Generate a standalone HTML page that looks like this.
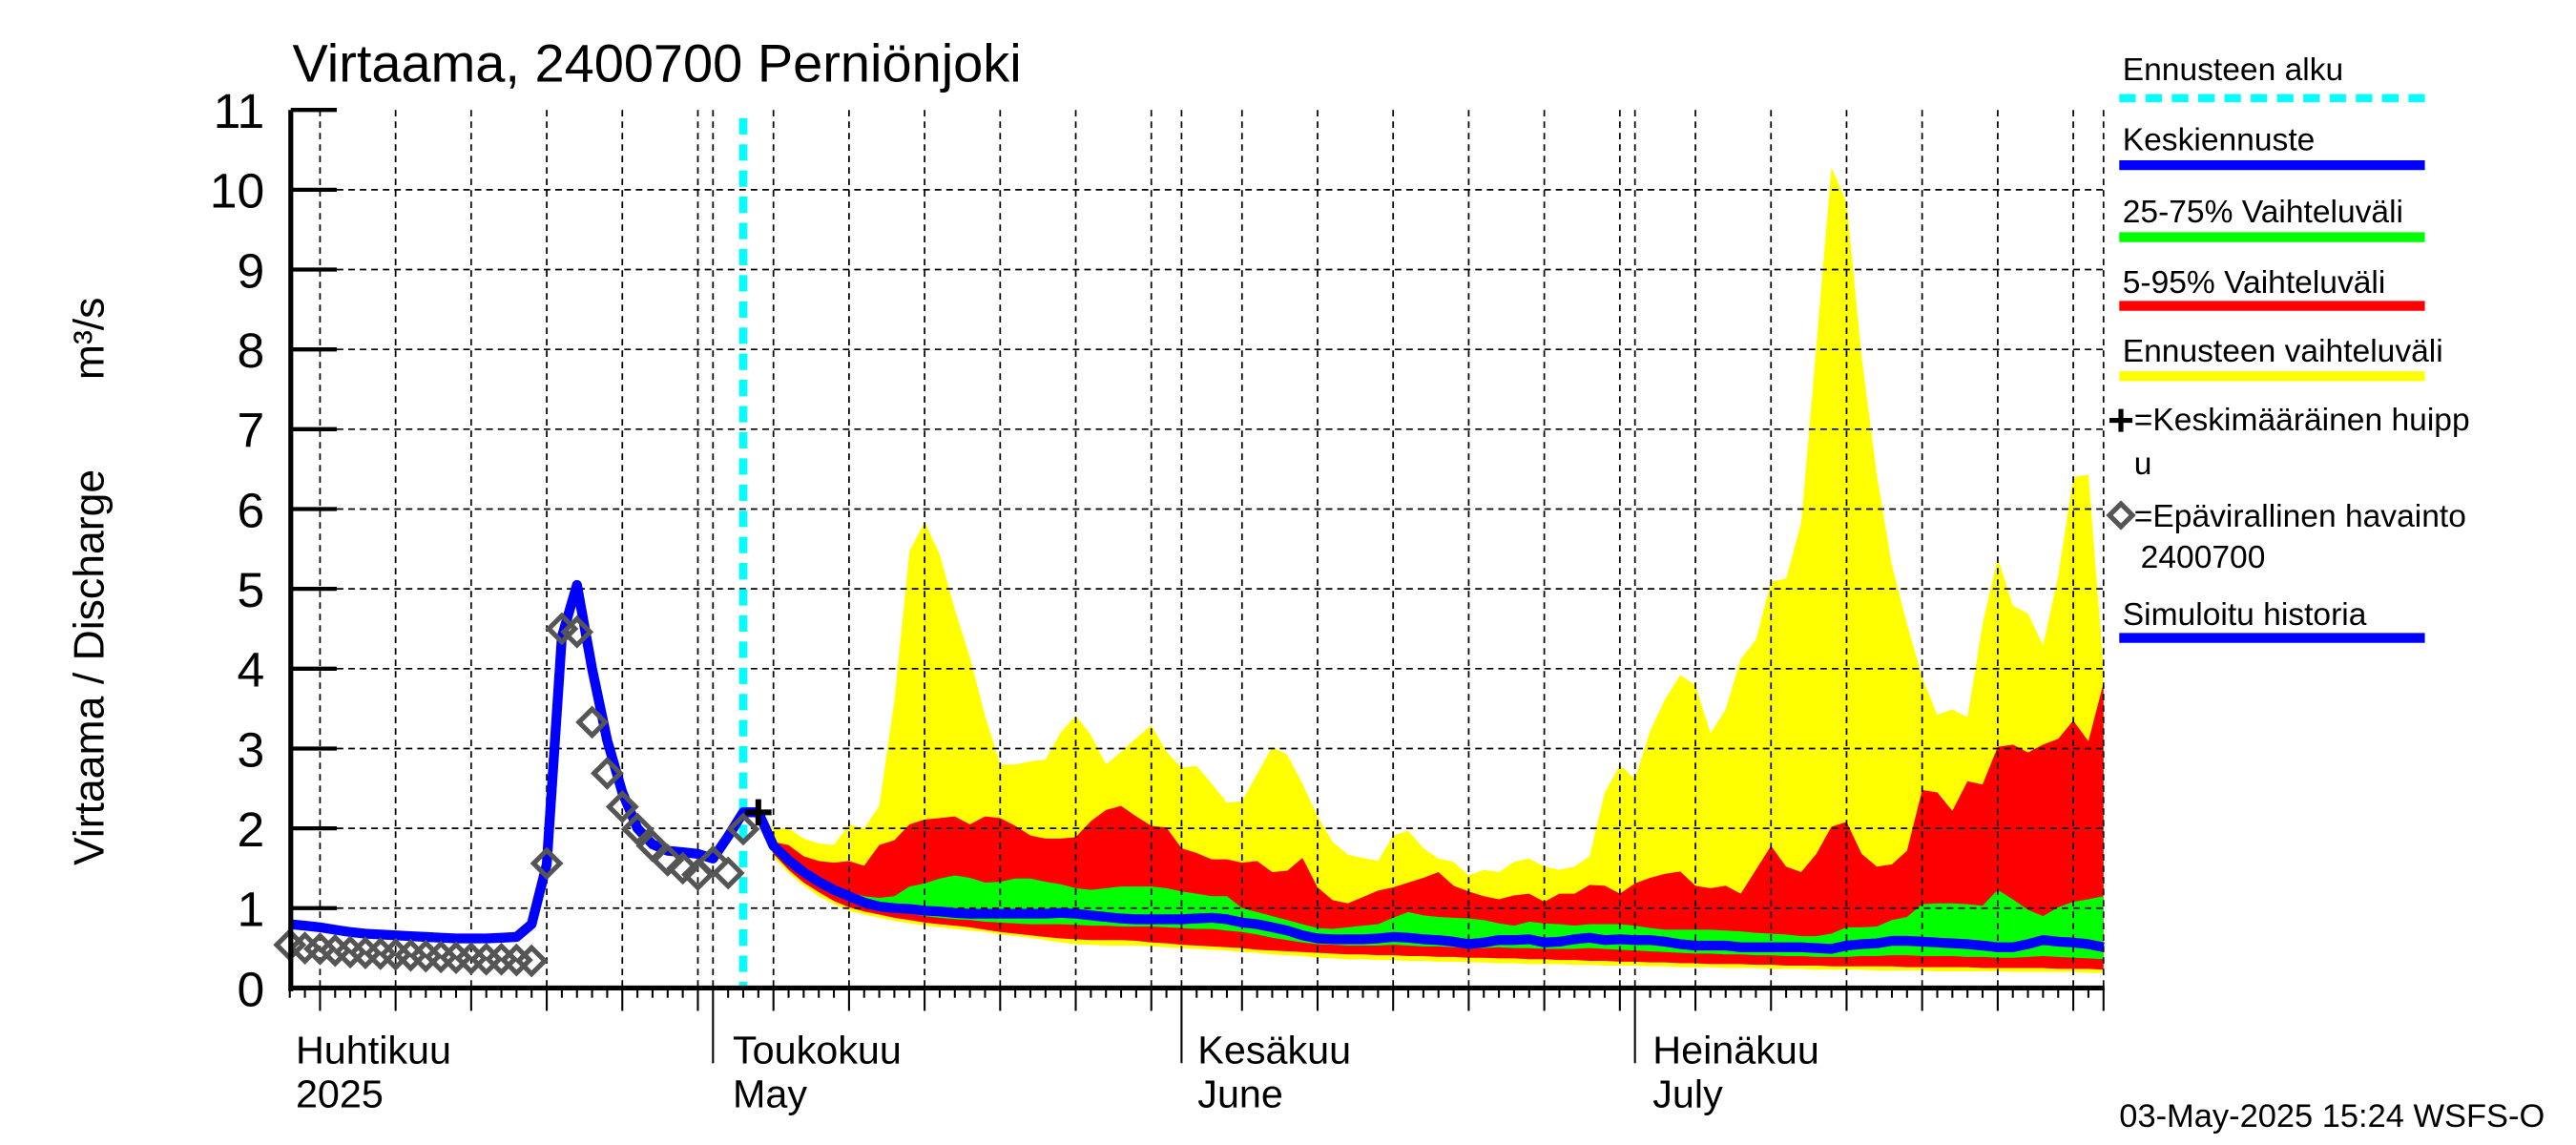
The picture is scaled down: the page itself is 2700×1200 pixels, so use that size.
<!DOCTYPE html>
<html><head><meta charset="utf-8"><style>
html,body{margin:0;padding:0;background:#fff;}
svg{display:block;font-family:"Liberation Sans",sans-serif;}
</style></head><body>
<svg id="chart" width="2700" height="1200" viewBox="0 0 1568 700" preserveAspectRatio="none" xmlns="http://www.w3.org/2000/svg">
<g id="bands"></g>
<g id="grid"></g>
<g id="lines"></g>
<g id="axes"></g>
<text x="178" y="50" font-size="32.5">Virtaama, 2400700 Perniönjoki</text>
<text transform="translate(63,408) rotate(-90)" text-anchor="middle" font-size="26">Virtaama / Discharge</text>
<text transform="translate(63,207) rotate(-90)" text-anchor="middle" font-size="26">m³/s</text>
<text x="180" y="650" font-size="24">Huhtikuu</text>
<text x="180" y="677" font-size="24">2025</text>
<text x="446" y="650" font-size="24">Toukokuu</text>
<text x="446" y="677" font-size="24">May</text>
<text x="729" y="650" font-size="24">Kesäkuu</text>
<text x="729" y="677" font-size="24">June</text>
<text x="1006" y="650" font-size="24">Heinäkuu</text>
<text x="1006" y="677" font-size="24">July</text>
<text x="1290" y="689" font-size="20">03-May-2025 15:24 WSFS-O</text>
<g font-size="19.5">
<text x="1292" y="49">Ennusteen alku</text>
<line x1="1290" y1="60" x2="1476" y2="60" stroke="#00ffff" stroke-width="5" stroke-dasharray="10,6"/>
<text x="1292" y="92">Keskiennuste</text>
<line x1="1290" y1="101" x2="1476" y2="101" stroke="#0000ff" stroke-width="6"/>
<text x="1292" y="136">25-75% Vaihteluväli</text>
<line x1="1290" y1="145" x2="1476" y2="145" stroke="#00ff00" stroke-width="6"/>
<text x="1292" y="179">5-95% Vaihteluväli</text>
<line x1="1290" y1="187" x2="1476" y2="187" stroke="#ff0000" stroke-width="6"/>
<text x="1292" y="221">Ennusteen vaihteluväli</text>
<line x1="1290" y1="230" x2="1476" y2="230" stroke="#ffff00" stroke-width="6"/>
<path d="M1284 257 h14 M1291 250 v14" stroke="#000" stroke-width="3"/>
<text x="1299" y="263">=Keskimääräinen huipp</text>
<text x="1299" y="290">u</text>
<path d="M1291 308 l7 7 l-7 7 l-7 -7 z" fill="none" stroke="#555" stroke-width="3"/>
<text x="1299" y="322">=Epävirallinen havainto</text>
<text x="1303" y="347">2400700</text>
<text x="1292" y="382">Simuloitu historia</text>
<line x1="1290" y1="390" x2="1476" y2="390" stroke="#0000ff" stroke-width="6"/>
</g>
</svg>
<script>
// data: day index from April 1 (Apr1 = 0)
const histStart = 2;
const history = [0.8,0.78,0.76,0.73,0.70,0.68,0.67,0.66,0.65,0.64,0.63,0.62,0.62,0.62,0.63,0.64,0.8,1.55,4.4,5.05,4.0,3.1,2.45,2.0,1.8,1.72,1.7,1.68,1.62,1.9,2.2,2.2];
const obsStart = 2;
const observed = [0.54,0.5,0.49,0.47,0.45,0.44,0.43,0.42,0.41,0.4,0.39,0.38,0.37,0.36,0.36,0.35,0.34,1.56,4.5,4.46,3.33,2.69,2.27,1.99,1.78,1.6,1.5,1.42,1.58,1.44,1.99];
const fcStart = 33;
const yMax = [2.2,2.0,2.0,1.87,1.81,1.79,2.05,2.0,2.28,3.6,5.47,5.84,5.43,4.74,4.14,3.41,2.8,2.8,2.84,2.86,3.2,3.41,3.17,2.8,2.96,3.13,3.29,2.96,2.76,2.78,2.56,2.32,2.34,2.68,3.02,2.92,2.56,2.15,1.83,1.67,1.63,1.59,1.91,1.97,
1.75,1.62,1.58,1.41,1.48,1.45,1.58,1.62,1.52,1.48,1.52,1.65,2.45,2.79,2.62,3.22,3.62,3.92,3.79,3.19,3.49,4.12,4.36,5.09,5.13,5.83,8.04,10.28,9.84,7.9,6.43,5.29,4.56,3.89,3.42,3.49,3.39,4.56,5.39,4.79,4.69,4.29,5.16,6.4,6.43,4.0];
const r95 = [2.2,1.83,1.79,1.65,1.59,1.57,1.59,1.53,1.79,1.85,2.05,2.11,2.13,2.15,2.05,2.15,2.13,2.03,1.91,1.87,1.87,1.89,2.09,2.23,2.28,2.15,2.03,2.01,1.75,1.69,1.61,1.61,1.57,1.59,1.45,1.47,1.63,1.26,1.1,1.06,1.14,1.22,1.26,1.32,
1.38,1.45,1.28,1.21,1.15,1.11,1.16,1.18,1.08,1.18,1.18,1.29,1.28,1.18,1.31,1.38,1.43,1.46,1.28,1.25,1.28,1.18,1.48,1.78,1.52,1.45,1.68,2.02,2.08,1.68,1.52,1.55,1.72,2.48,2.45,2.22,2.59,2.55,3.02,3.05,2.95,3.05,3.12,3.35,3.09,3.82];
const g75 = [2.2,1.82,1.64,1.49,1.37,1.27,1.2,1.15,1.13,1.15,1.27,1.31,1.37,1.41,1.38,1.32,1.33,1.37,1.37,1.33,1.3,1.25,1.23,1.25,1.27,1.27,1.27,1.25,1.21,1.18,1.15,1.15,1.0,0.95,0.9,0.85,0.8,0.75,0.74,0.76,0.78,0.8,0.88,0.95,
0.91,0.89,0.88,0.87,0.85,0.81,0.78,0.83,0.81,0.8,0.78,0.8,0.8,0.8,0.78,0.75,0.73,0.73,0.73,0.73,0.72,0.71,0.69,0.68,0.67,0.65,0.65,0.68,0.76,0.76,0.77,0.85,0.89,1.05,1.06,1.06,1.05,1.03,1.23,1.11,0.98,0.9,1.01,1.08,1.11,1.15];
const median = [2.2,1.78,1.6,1.45,1.33,1.23,1.15,1.07,1.02,1.0,0.99,0.97,0.96,0.94,0.93,0.93,0.93,0.93,0.93,0.93,0.94,0.93,0.91,0.89,0.87,0.86,0.86,0.86,0.86,0.87,0.88,0.86,0.82,0.8,0.76,0.72,0.66,0.62,0.61,0.61,0.61,0.62,0.64,0.63,
0.61,0.6,0.58,0.55,0.57,0.6,0.6,0.61,0.57,0.58,0.61,0.63,0.6,0.61,0.6,0.6,0.58,0.55,0.53,0.53,0.53,0.51,0.51,0.51,0.51,0.51,0.5,0.49,0.53,0.55,0.56,0.59,0.59,0.58,0.57,0.56,0.55,0.53,0.51,0.51,0.55,0.6,0.58,0.57,0.55,0.51];
const g25 = [2.2,1.74,1.55,1.4,1.28,1.18,1.1,1.03,0.98,0.95,0.93,0.9,0.88,0.86,0.85,0.83,0.82,0.81,0.8,0.8,0.8,0.79,0.78,0.78,0.77,0.77,0.77,0.76,0.75,0.74,0.74,0.72,0.7,0.67,0.63,0.6,0.57,0.55,0.54,0.53,0.53,0.53,0.54,0.53,
0.52,0.52,0.51,0.5,0.5,0.51,0.5,0.5,0.49,0.49,0.49,0.5,0.49,0.48,0.47,0.46,0.45,0.44,0.43,0.43,0.42,0.42,0.41,0.41,0.4,0.4,0.39,0.39,0.39,0.4,0.4,0.41,0.41,0.4,0.4,0.4,0.39,0.39,0.38,0.38,0.39,0.4,0.39,0.38,0.37,0.36];
const r5 = [2.2,1.68,1.48,1.32,1.2,1.09,1.01,0.96,0.92,0.88,0.85,0.82,0.8,0.78,0.76,0.73,0.7,0.68,0.66,0.64,0.62,0.61,0.6,0.6,0.6,0.59,0.57,0.56,0.54,0.53,0.52,0.51,0.5,0.48,0.47,0.46,0.45,0.44,0.43,0.42,0.42,0.41,0.41,0.4,
0.4,0.39,0.39,0.38,0.38,0.37,0.37,0.36,0.36,0.35,0.35,0.34,0.34,0.33,0.33,0.32,0.32,0.31,0.31,0.3,0.3,0.3,0.29,0.29,0.28,0.28,0.28,0.27,0.27,0.27,0.27,0.27,0.26,0.26,0.26,0.26,0.26,0.25,0.25,0.25,0.25,0.25,0.24,0.24,0.24,0.23];
const yMin = [2.2,1.64,1.44,1.28,1.15,1.05,0.97,0.92,0.88,0.84,0.81,0.78,0.76,0.74,0.72,0.7,0.67,0.65,0.63,0.6,0.57,0.55,0.54,0.53,0.53,0.53,0.52,0.51,0.5,0.49,0.48,0.47,0.45,0.44,0.42,0.41,0.4,0.38,0.37,0.36,0.36,0.35,0.35,0.34,
0.34,0.33,0.33,0.32,0.32,0.31,0.31,0.3,0.3,0.3,0.29,0.29,0.28,0.28,0.28,0.27,0.27,0.26,0.26,0.26,0.25,0.25,0.25,0.24,0.24,0.24,0.23,0.23,0.23,0.23,0.22,0.22,0.22,0.22,0.21,0.21,0.21,0.21,0.21,0.2,0.2,0.2,0.2,0.2,0.19,0.19];
const peakDay = 33, peakValue = 2.2;
const forecastStartDay = 32;
const yTicks = [0,1,2,3,4,5,6,7,8,9,10,11];
const monthStarts = [30,61,91];

const NS = "http://www.w3.org/2000/svg";
const X0 = 434, DAYW = 9.2, Y0 = 604, YU = 48.8, XL = 177, XR = 1281;
function xs(d){ return X0 + (d-30)*DAYW; }
function ys(v){ return Y0 - v*YU; }
function mk(tag, attrs, parent){ const e=document.createElementNS(NS,tag); for(const k in attrs) e.setAttribute(k,attrs[k]); parent.appendChild(e); return e; }

const bands = document.getElementById('bands');
function band(upper, lower, color, name){
  let pts=[];
  for(let i=0;i<upper.length;i++) pts.push(xs(fcStart+i).toFixed(1)+','+ys(upper[i]).toFixed(1));
  for(let i=lower.length-1;i>=0;i--) pts.push(xs(fcStart+i).toFixed(1)+','+ys(lower[i]).toFixed(1));
  const p = mk('polygon',{points:pts.join(' '),fill:color},bands);
  
  
}
band(yMax, yMin, '#ffff00', 'band-forecast-range');
band(r95, r5, '#ff0000', 'band-5-95');
band(g75, g25, '#00ff00', 'band-25-75');

const grid = document.getElementById('grid');
for(let v=1; v<=10; v++){
  const l = mk('line',{x1:XL,x2:XR,y1:ys(v),y2:ys(v),stroke:'#000','stroke-width':1,'stroke-dasharray':'4,3'},grid);
  
  
}
const gridDays = [];
for(let d=2; d<=122; d++){
  const dom = d<30 ? d+1 : d<61 ? d-29 : d<91 ? d-60 : d-90;
  if(dom%5===0 || monthStarts.includes(d) || d===122) gridDays.push(d);
}
gridDays.forEach(d=>{
  const l = mk('line',{x1:xs(d),x2:xs(d),y1:ys(11),y2:Y0,stroke:'#000','stroke-width':1,'stroke-dasharray':'4,3'},grid);
  
  
});
const cy = mk('line',{x1:xs(forecastStartDay),x2:xs(forecastStartDay),y1:ys(11)+5,y2:Y0,stroke:'#00ffff','stroke-width':5,'stroke-dasharray':'10,6'},grid);



const lines = document.getElementById('lines');
function poly(arr, start, name, w){
  const pts = arr.map((v,i)=>xs(start+i).toFixed(1)+','+ys(v).toFixed(1)).join(' ');
  const p = mk('polyline',{points:pts,fill:'none',stroke:'#0000ff','stroke-width':w,'stroke-linejoin':'round'},lines);
  
  
}
poly(history, histStart, 'simulated-history-line', 6);
poly(median, fcStart, 'median-forecast-line', 6);
observed.forEach((v,i)=>{
  const x=xs(obsStart+i), y=ys(v);
  const p = mk('path',{d:`M${x} ${y-8} L${x+8} ${y} L${x} ${y+8} L${x-8} ${y} Z`,fill:'none',stroke:'#555','stroke-width':3},lines);
  
  
});
const pk = mk('path',{d:`M${xs(peakDay)-8} ${ys(peakValue)} h16 M${xs(peakDay)} ${ys(peakValue)-8} v16`,stroke:'#000','stroke-width':3.5},lines);



const axes = document.getElementById('axes');
mk('line',{x1:XL,x2:XL,y1:ys(11),y2:Y0+2,stroke:'#000','stroke-width':3},axes);
mk('line',{x1:XL,x2:XR,y1:Y0,y2:Y0,stroke:'#000','stroke-width':3},axes);
yTicks.forEach(v=>{
  mk('line',{x1:XL,x2:XL+28,y1:ys(v),y2:ys(v),stroke:'#000','stroke-width':2.5},axes);
  const t = mk('text',{x:XL-16,y:ys(v)+11,'text-anchor':'end','font-size':30},axes);
  t.textContent = v;
  
  
});
for(let d=2; d<=122; d++){
  let len = gridDays.includes(d) ? 14 : 6;
  if(monthStarts.includes(d)) len = 46;
  mk('line',{x1:xs(d),x2:xs(d),y1:Y0,y2:Y0+len,stroke:'#000','stroke-width':1.2},axes);
}
</script>
</body></html>
